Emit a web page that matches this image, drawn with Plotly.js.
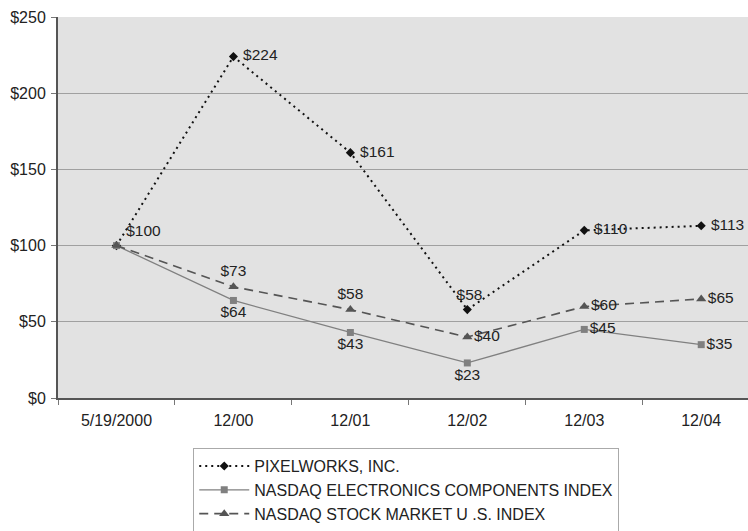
<!DOCTYPE html>
<html>
<head>
<meta charset="utf-8">
<script src="https://cdn.plot.ly/plotly-3.0.1.min.js"></script>
<style>html,body{margin:0;padding:0;background:#fff;}#chart{width:748px;height:531px;}</style>
</head>
<body>
<div id="chart"></div>
<script>
const categories = ["5/19/2000", "12/00", "12/01", "12/02", "12/03", "12/04"];
const seriesNames = ["PIXELWORKS, INC.", "NASDAQ ELECTRONICS COMPONENTS INDEX", "NASDAQ STOCK MARKET U .S. INDEX"];
const pixelworks = [100, 224, 161, 58, 110, 113];
const electronics = [100, 64, 43, 23, 45, 35];
const stockMarket = [100, 73, 58, 40, 60, 65];
const yTicks = [0, 50, 100, 150, 200, 250];

const fmt = v => "$" + v;
const labelFont = {family: "Liberation Sans, Arial, sans-serif", size: 15.5, color: "#222"};

const traces = [
  {
    x: categories, y: pixelworks, name: seriesNames[0], legendgroup: "a",
    mode: "lines+markers+text",
    text: pixelworks.map(v => " " + fmt(v)),
    textposition: ["top right", "middle right", "middle right", "top center", "middle right", "middle right"],
    textfont: labelFont,
    line: {color: "#111", width: 2, dash: "2px,4px"},
    marker: {symbol: "diamond", size: 7, color: "#111"},
    cliponaxis: false
  },
  {
    x: categories, y: electronics, name: seriesNames[1], legendgroup: "b",
    mode: "lines+markers+text",
    text: electronics.map((v, i) => i === 0 ? "" : fmt(v)),
    textposition: ["middle right", "bottom center", "bottom center", "bottom center", "middle right", "middle right"],
    textfont: labelFont,
    line: {color: "#808080", width: 1.3},
    marker: {symbol: "square", size: 7, color: "#808080"},
    cliponaxis: false
  },
  {
    x: categories, y: stockMarket, name: seriesNames[2], legendgroup: "c",
    mode: "lines+markers+text",
    text: stockMarket.map((v, i) => i === 0 ? "" : fmt(v)),
    textposition: ["middle right", "top center", "top center", "middle right", "middle right", "middle right"],
    textfont: labelFont,
    line: {color: "#555", width: 1.6, dash: "9px,6px"},
    marker: {symbol: "triangle-up", size: 9, color: "#555"},
    cliponaxis: false
  }
];

const layout = {
  width: 748, height: 531,
  margin: {l: 58, r: 0, t: 17, b: 133},
  paper_bgcolor: "#fff",
  plot_bgcolor: "#e2e2e2",
  font: {family: "Liberation Sans, Arial, sans-serif", size: 16, color: "#222"},
  showlegend: true,
  xaxis: {
    type: "category",
    range: [-0.5, 5.4],
    tickmode: "array", tickvals: categories, ticktext: categories,
    tickson: "boundaries",
    ticks: "outside", ticklen: 5, tickcolor: "#777",
    ticklabelstandoff: 7,
    showgrid: false,
    showline: true, linecolor: "#555", linewidth: 2,
    tickfont: {size: 16, color: "#222"},
    zeroline: false,
    fixedrange: true
  },
  yaxis: {
    range: [0, 250],
    tickmode: "array", tickvals: yTicks, ticktext: yTicks.map(fmt),
    ticks: "outside", ticklen: 5, tickcolor: "#777",
    ticklabelstandoff: 2,
    showgrid: true, gridcolor: "#a0a0a0", gridwidth: 1.2,
    showline: true, linecolor: "#555", linewidth: 2,
    zeroline: false,
    tickfont: {size: 16, color: "#222"},
    fixedrange: true
  },
  legend: {
    x: 0.196, xanchor: "left",
    yref: "container",
    y: 0.156, yanchor: "top",
    bgcolor: "#fff",
    bordercolor: "#aaa", borderwidth: 1,
    font: {size: 16, color: "#222"},
    traceorder: "normal",
    itemwidth: 50
  }
};

Plotly.newPlot("chart", traces, layout, {displayModeBar: false, staticPlot: true});
</script>
</body>
</html>
